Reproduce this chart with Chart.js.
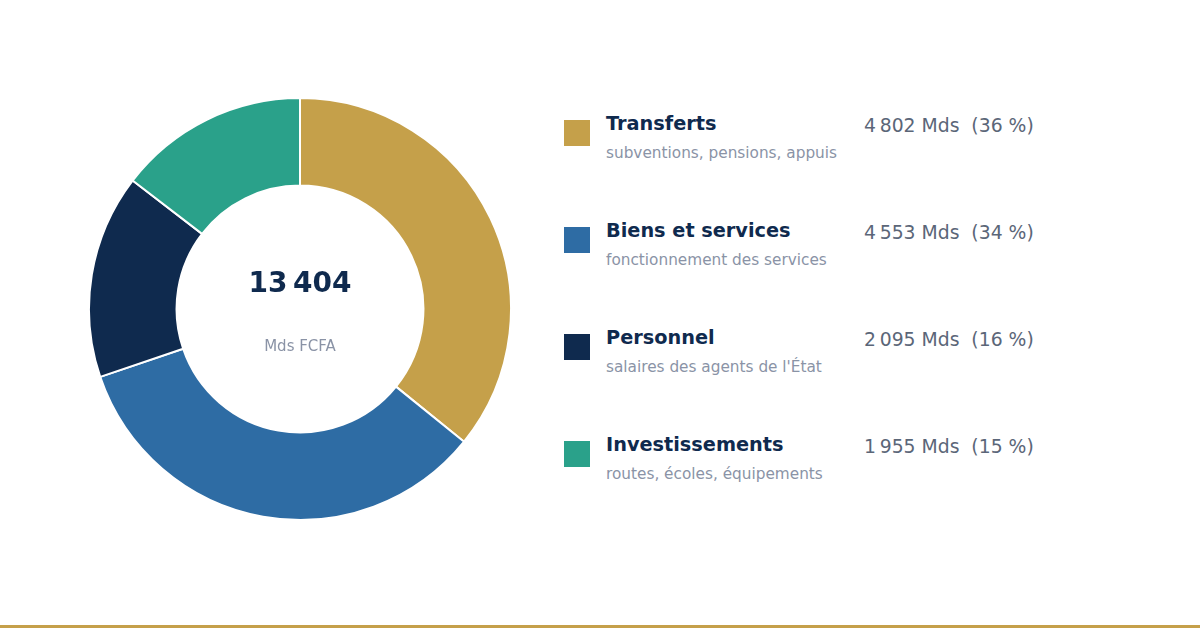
<!DOCTYPE html>
<html>
<head>
<meta charset="utf-8">
<script src="https://cdn.jsdelivr.net/npm/chart.js@4"></script>
<style>
  html, body { margin: 0; padding: 0; background: #fff; }
  #wrap { position: relative; width: 1200px; height: 630px; overflow: hidden; font-family: "DejaVu Sans", sans-serif; }
  #donut { position: absolute; left: 88px; top: 97px; width: 424px; height: 424px; }
  .row { position: absolute; left: 564px; width: 560px; height: 80px; }
  .sw { position: absolute; left: 0; top: 10px; width: 26px; height: 26px; }
  .ttl { position: absolute; left: 42px; top: 0; font-size: 19.3px; line-height: 28px; font-weight: bold; color: #0f2a4e; white-space: nowrap; }
  .sub { position: absolute; left: 42px; top: 33px; font-size: 15.3px; line-height: 20px; color: #8a93a6; white-space: nowrap; }
  .val { position: absolute; left: 300px; top: 2px; font-size: 18.8px; line-height: 28px; color: #5b6678; white-space: pre; }
  #rule { position: absolute; left: 0; top: 625px; width: 1200px; height: 3px; background: #c5a04a; }
</style>
</head>
<body>
<div id="wrap">
  <canvas id="donut" width="424" height="424"></canvas>
  <div id="legend"></div>
  <div id="rule"></div>
</div>
<script>
var Labels = ["Transferts", "Biens et services", "Personnel", "Investissements"];
var SubLabels = ["subventions, pensions, appuis", "fonctionnement des services", "salaires des agents de l'État", "routes, écoles, équipements"];
var Amounts = [4802, 4553, 2095, 1955];
var Colours = ["#c5a04a", "#2e6ca4", "#0f2a4e", "#2aa18a"];
var Total = 13404;

function fmt(n)
{
    return String(n).replace(/\B(?=(\d{3})+(?!\d))/g, "\u202f");
}

var sum = 0;
Amounts.forEach(function (a) { sum += a; });

var legend = document.getElementById("legend");
Labels.forEach(function (lbl, i)
{
    var pct = Math.round(Amounts[i] / sum * 100);
    var row = document.createElement("div");
    row.className = "row";
    row.style.top = (110 + 107 * i) + "px";
    row.innerHTML =
        '<div class="sw" style="background:' + Colours[i] + '"></div>' +
        '<div class="ttl">' + lbl + '</div>' +
        '<div class="sub">' + SubLabels[i] + '</div>' +
        '<div class="val">' + fmt(Amounts[i]) + ' Mds  (' + pct + '\u00a0%)</div>';
    legend.appendChild(row);
});

// texte au centre de l'anneau
var centerText = {
    id: "centerText",
    afterDraw: function (chart)
    {
        var arc = chart.getDatasetMeta(0).data[0];
        var ctx = chart.ctx;
        ctx.save();
        ctx.textAlign = "center";
        ctx.textBaseline = "middle";
        ctx.fillStyle = "#0f2a4e";
        ctx.font = "bold 28px 'DejaVu Sans'";
        ctx.fillText(fmt(Total), arc.x, arc.y - 24);
        ctx.fillStyle = "#8a93a6";
        ctx.font = "15px 'DejaVu Sans'";
        ctx.fillText("Mds FCFA", arc.x, arc.y + 38);
        ctx.restore();
    }
};

var canvas = document.getElementById("donut").getContext("2d");
var myDoughnutChart = new Chart(canvas, {
    type: "doughnut",
    data: {
        labels: Labels,
        datasets: [{
            data: Amounts,
            backgroundColor: Colours,
            borderColor: "#ffffff",
            borderWidth: 2,
            hoverOffset: 0
        }]
    },
    options: {
        responsive: false,
        animation: false,
        cutout: "58.5%",
        layout: { padding: 0 },
        plugins: {
            legend: { display: false },
            tooltip: { enabled: false }
        }
    },
    plugins: [centerText]
});
</script>
</body>
</html>
